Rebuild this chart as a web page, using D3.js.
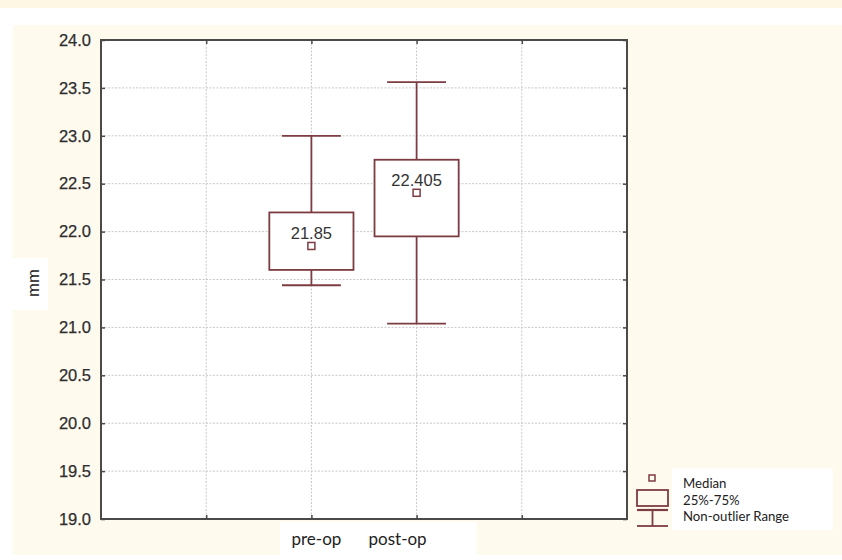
<!DOCTYPE html>
<html><head><meta charset="utf-8">
<script src="https://cdn.jsdelivr.net/npm/d3@7"></script>
<style>body{margin:0;background:#fff;}svg{display:block;}</style>
</head><body><svg id="c" width="842" height="560"></svg>
<script>
const categories = ["pre-op", "post-op"];
const catPositions = [2, 3];
const whiskerLow = [21.44, 21.04];
const q1 = [21.60, 21.95];
const median = [21.85, 22.405];
const q3 = [22.20, 22.75];
const whiskerHigh = [23.00, 23.56];
const medianLabels = ["21.85", "22.405"];
const yTicks = [19.0, 19.5, 20.0, 20.5, 21.0, 21.5, 22.0, 22.5, 23.0, 23.5, 24.0];
const xGrid = [1, 2, 3, 4];
const legendLabels = ["Median", "25%-75%", "Non-outlier Range"];

const svg = d3.select("#c");
const boxColor = "#7d3c42";
const frame = "#4a4a4a";

// backgrounds
svg.append("rect").attr("x",0).attr("y",0).attr("width",842).attr("height",8).attr("fill","#fdf7e3");
svg.append("rect").attr("x",13).attr("y",25).attr("width",829).attr("height",530).attr("fill","#fefaee");

const L = 101, R = 627, T = 40, B = 519;
const x = d3.scaleLinear().domain([0, 5]).range([L, R]);
const y = d3.scaleLinear().domain([19, 24]).range([B, T]);

svg.append("rect").attr("x",L).attr("y",T).attr("width",R-L).attr("height",B-T).attr("fill","#fff");

// grid
svg.append("g").selectAll("line").data(yTicks.slice(1, -1)).join("line")
  .attr("x1", L).attr("x2", R).attr("y1", d=>y(d)).attr("y2", d=>y(d))
  .attr("stroke", "#c8c8c8").attr("stroke-dasharray", "2,1.5").attr("stroke-width", 1);
svg.append("g").selectAll("line").data(xGrid).join("line")
  .attr("x1", d=>x(d)).attr("x2", d=>x(d)).attr("y1", T).attr("y2", B)
  .attr("stroke", "#c8c8c8").attr("stroke-dasharray", "2,1.5").attr("stroke-width", 1);

// frame
svg.append("rect").attr("x",L).attr("y",T).attr("width",R-L).attr("height",B-T)
  .attr("fill","none").attr("stroke",frame).attr("stroke-width",2);

// axes
const yAxis = svg.append("g").attr("transform", `translate(${L},0)`)
  .call(d3.axisLeft(y).tickValues(yTicks).tickFormat(d3.format(".1f")).tickSizeInner(-4).tickSizeOuter(0).tickPadding(10));
yAxis.select(".domain").remove();
yAxis.selectAll("line").attr("stroke", frame).attr("stroke-width", 1.5);
yAxis.selectAll("text").attr("font-family","Liberation Sans, Arial, sans-serif").attr("font-size",16.5)
  .attr("fill","#2e2e2e").attr("stroke","#2e2e2e").attr("stroke-width",0.25);

const yAxisR = svg.append("g").attr("transform", `translate(${R},0)`)
  .call(d3.axisRight(y).tickValues(yTicks).tickFormat("").tickSizeInner(-4).tickSizeOuter(0));
yAxisR.select(".domain").remove();
yAxisR.selectAll("line").attr("stroke", frame).attr("stroke-width", 1.5);

const xTop = svg.append("g").attr("transform", `translate(0,${T})`)
  .call(d3.axisTop(x).tickValues(xGrid).tickFormat("").tickSizeInner(-4).tickSizeOuter(0));
xTop.select(".domain").remove();
xTop.selectAll("line").attr("stroke", frame).attr("stroke-width", 1.5);
const xBot = svg.append("g").attr("transform", `translate(0,${B})`)
  .call(d3.axisBottom(x).tickValues(xGrid).tickFormat("").tickSizeInner(-4).tickSizeOuter(0));
xBot.select(".domain").remove();
xBot.selectAll("line").attr("stroke", frame).attr("stroke-width", 1.5);

// x labels box
svg.append("rect").attr("x",280).attr("y",522).attr("width",197).attr("height",33).attr("fill","#fff");
const labelDx = [5, -19];
svg.append("g").selectAll("text").data(categories).join("text")
  .attr("x", (d,i)=>x(catPositions[i]) + labelDx[i]).attr("y", 545)
  .attr("text-anchor","middle").attr("font-family","Lato, 'Open Sans', sans-serif").attr("font-size",17)
  .attr("fill","#222").text(d=>d);

// y label
svg.append("rect").attr("x",13).attr("y",258).attr("width",35).attr("height",52).attr("fill","#fff");
svg.append("text").attr("transform","translate(39,283) rotate(-90)").attr("text-anchor","middle")
  .attr("font-family","Lato, 'Open Sans', sans-serif").attr("font-size",17).attr("fill","#222").text("mm");

// boxes
const boxW = x(0.4) - x(0);
const capW = x(0.28) - x(0);
const g = svg.append("g").attr("stroke", boxColor).attr("stroke-width", 1.8).attr("fill","none");
categories.forEach((c,i)=>{
  const cx = x(catPositions[i]);
  g.append("line").attr("x1",cx).attr("x2",cx).attr("y1",y(whiskerHigh[i])).attr("y2",y(q3[i]));
  g.append("line").attr("x1",cx).attr("x2",cx).attr("y1",y(q1[i])).attr("y2",y(whiskerLow[i]));
  g.append("line").attr("x1",cx-capW).attr("x2",cx+capW).attr("y1",y(whiskerHigh[i])).attr("y2",y(whiskerHigh[i]));
  g.append("line").attr("x1",cx-capW).attr("x2",cx+capW).attr("y1",y(whiskerLow[i])).attr("y2",y(whiskerLow[i]));
  g.append("rect").attr("x",cx-boxW).attr("y",y(q3[i])).attr("width",2*boxW).attr("height",y(q1[i])-y(q3[i])).attr("fill","#fff");
  g.append("rect").attr("x",cx-3.5).attr("y",y(median[i])-3.5).attr("width",7).attr("height",7).attr("fill","#fff").attr("stroke-width",1.5);
  svg.append("text").attr("x",cx).attr("y",y(median[i])-7).attr("text-anchor","middle")
    .attr("font-family","Liberation Sans, Arial, sans-serif").attr("font-size",16.5).attr("fill","#333").text(medianLabels[i]);
});

// legend
svg.append("rect").attr("x",672).attr("y",468).attr("width",161).attr("height",62).attr("fill","#fff");
const lg = svg.append("g").attr("stroke", boxColor).attr("stroke-width",1.8).attr("fill","none");
lg.append("rect").attr("x",649).attr("y",475).attr("width",6).attr("height",6).attr("stroke-width",1.5);
lg.append("rect").attr("x",637).attr("y",490).attr("width",31).attr("height",16);
lg.append("line").attr("x1",637).attr("x2",668).attr("y1",510).attr("y2",510).attr("stroke-width",2.2);
lg.append("line").attr("x1",652.5).attr("x2",652.5).attr("y1",510).attr("y2",526);
lg.append("line").attr("x1",637).attr("x2",668).attr("y1",526).attr("y2",526);
svg.append("g").selectAll("text").data(legendLabels).join("text")
  .attr("x",683).attr("y",(d,i)=>488 + i*16.5)
  .attr("font-family","Lato, 'Open Sans', sans-serif").attr("font-size",13.2).attr("fill","#222").text(d=>d);
</script></body></html>
